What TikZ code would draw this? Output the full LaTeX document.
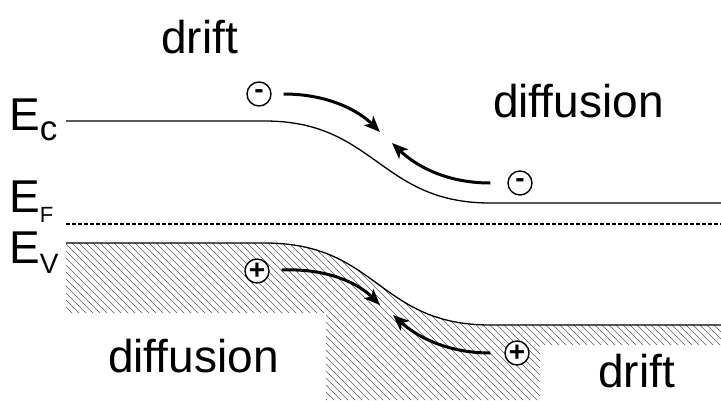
\documentclass[tikz,border=0pt]{standalone}
\usepackage{fontspec}
\setmainfont{Liberation Sans}
\usetikzlibrary{arrows.meta}

\begin{document}
\begin{tikzpicture}[x=1pt, y=-1pt,
  band/.style={line width=1.3pt},
  hatchline/.style={line width=0.6pt, black!65},
  carrier/.style={circle, draw, fill=white, line width=1.4pt, minimum size=24pt, inner sep=0pt, font=\fontsize{28}{28}\selectfont\bfseries},
  flow/.style={line width=3pt, -{Stealth[length=16pt, width=13pt, inset=4pt]}, shorten <=12pt},
  lab/.style={anchor=base west, inner sep=0pt, font=\fontsize{46}{50}\selectfont}]
  \useasboundingbox (0,0) rectangle (721,400);

  % hatched valence band
  \begin{scope}
    \clip (66,243) -- (265,243) .. controls (378,243) and (378,325) .. (490,325) -- (721,325)
      -- (721,345) -- (540,345) -- (540,400) -- (326,400) -- (326,313) -- (66,313) -- cycle;
    \foreach \s in {-200,-193,...,730}
      \draw[hatchline] (\s,230) -- ++(190,190);
  \end{scope}

  % band edges
  \draw[band] (66,121) -- (265,121) .. controls (375,121) and (380,203) .. (490,203) -- (721,203);
  \draw[line width=2pt, dash pattern=on 4pt off 2pt] (66,224) -- (721,224);
  \draw[band] (66,243) -- (265,243) .. controls (378,243) and (378,325) .. (490,325) -- (721,325);

  % labels
  \node[lab] (ec) at (9,130) {E\raisebox{-10pt}{\fontsize{35}{35}\selectfont c}};
  \node[lab] (ef) at (9,212) {E\raisebox{-10pt}{\fontsize{22}{22}\selectfont F}};
  \node[lab] (ev) at (9,263) {E\raisebox{-10pt}{\fontsize{28}{28}\selectfont V}};
  \node[lab] (drift1) at (161,53) {drift};
  \node[lab] (diff1) at (493,117) {diffusion};
  \node[lab] (diff2) at (108,372) {diffusion};
  \node[lab] (drift2) at (598,387) {drift};

  % carriers
  \node[carrier] (n1) at (259,94) {\raisebox{-3pt}{-}};
  \node[carrier] (n2) at (520,183) {\raisebox{-3pt}{-}};
  \node[carrier] (p1) at (257,271) {\raisebox{-1pt}{+}};
  \node[carrier] (p2) at (517,353) {\raisebox{-1pt}{+}};
  \coordinate (t1) at (380,132);
  \coordinate (t2) at (392,143);
  \coordinate (t3) at (380,305);
  \coordinate (t4) at (393,315);

  \draw[flow] (n1) .. controls (330,94) and (360,112) .. (t1);
  \draw[flow, shorten <=17pt] (n2) .. controls (445,183) and (415,165) .. (t2);
  \draw[flow] (p1) .. controls (330,268) and (360,285) .. (t3);
  \draw[flow, shorten <=14pt] (p2) .. controls (445,353) and (415,335) .. (t4);
\end{tikzpicture}
\end{document}
